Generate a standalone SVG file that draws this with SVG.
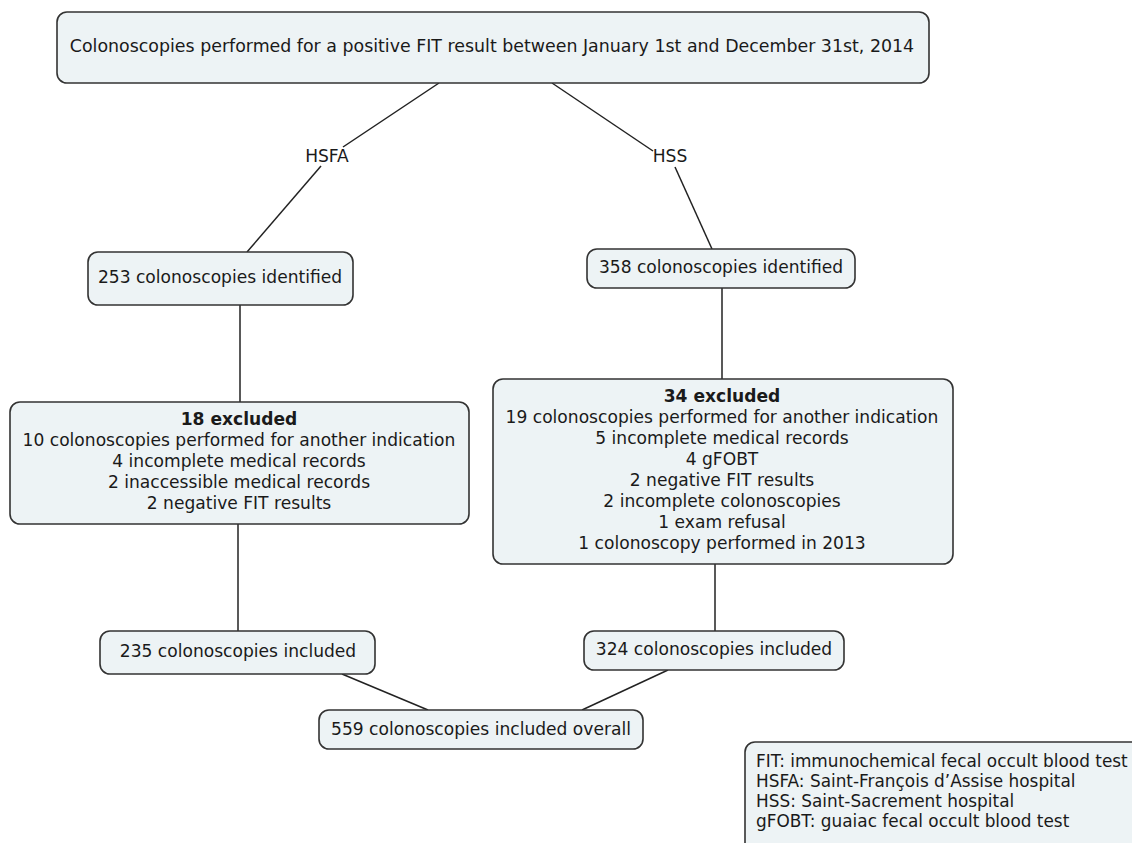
<svg xmlns="http://www.w3.org/2000/svg" width="1132" height="843" viewBox="0 0 1132 843">
<style>
.box{fill:#edf3f5;stroke:#333;stroke-width:1.6}
.t{font-family:"DejaVu Sans",Verdana,sans-serif;font-size:17.1px;fill:#1a1a1a}
.c{text-anchor:middle}
.b{font-weight:bold}
.ln{stroke:#222;stroke-width:1.5;fill:none}
.lg{font-family:"DejaVu Sans",Verdana,sans-serif;font-size:16.9px;fill:#1a1a1a}
</style>
<rect width="1132" height="843" fill="#fff"/>
<g id="connectors">
<line class="ln" x1="439" y1="83" x2="343" y2="147"/>
<line class="ln" x1="321" y1="166" x2="247" y2="252"/>
<line class="ln" x1="552" y1="83" x2="653" y2="151"/>
<line class="ln" x1="675" y1="167" x2="712" y2="249"/>
<line class="ln" x1="240" y1="305" x2="240" y2="402"/>
<line class="ln" x1="722" y1="288" x2="722" y2="379"/>
<line class="ln" x1="238" y1="524" x2="238" y2="631"/>
<line class="ln" x1="715" y1="564" x2="715" y2="631"/>
<line class="ln" x1="342" y1="674" x2="428" y2="710"/>
<line class="ln" x1="668" y1="670" x2="582" y2="710"/>
<text class="t c" x="327" y="162">HSFA</text>
<text class="t c" x="670" y="162">HSS</text>
</g>
<g id="top">
<rect class="box" x="57" y="12" width="872" height="71" rx="10"/>
<text class="t c" x="492" y="52" style="font-size:17.4px">Colonoscopies performed for a positive FIT result between January 1st and December 31st, 2014</text>
</g>
<g id="hsfa-identified">
<rect class="box" x="88" y="252" width="265" height="53" rx="10"/>
<text class="t c" x="220" y="283">253 colonoscopies identified</text>
</g>
<g id="hss-identified">
<rect class="box" x="587" y="249" width="268" height="39" rx="10"/>
<text class="t c" x="721" y="273">358 colonoscopies identified</text>
</g>
<g id="hsfa-excluded">
<rect class="box" x="10" y="402" width="459" height="122" rx="10"/>
<text class="t c b" x="239" y="425">18 excluded</text>
<text class="t c" x="239" y="446">10 colonoscopies performed for another indication</text>
<text class="t c" x="239" y="467">4 incomplete medical records</text>
<text class="t c" x="239" y="488">2 inaccessible medical records</text>
<text class="t c" x="239" y="509">2 negative FIT results</text>
</g>
<g id="hss-excluded">
<rect class="box" x="493" y="379" width="460" height="185" rx="10"/>
<text class="t c b" x="722" y="402">34 excluded</text>
<text class="t c" x="722" y="423">19 colonoscopies performed for another indication</text>
<text class="t c" x="722" y="444">5 incomplete medical records</text>
<text class="t c" x="722" y="465">4 gFOBT</text>
<text class="t c" x="722" y="486">2 negative FIT results</text>
<text class="t c" x="722" y="507">2 incomplete colonoscopies</text>
<text class="t c" x="722" y="528">1 exam refusal</text>
<text class="t c" x="722" y="549">1 colonoscopy performed in 2013</text>
</g>
<g id="hsfa-included">
<rect class="box" x="100" y="631" width="275" height="43" rx="10"/>
<text class="t c" x="238" y="657">235 colonoscopies included</text>
</g>
<g id="hss-included">
<rect class="box" x="584" y="631" width="260" height="39" rx="10"/>
<text class="t c" x="714" y="655">324 colonoscopies included</text>
</g>
<g id="overall">
<rect class="box" x="319" y="710" width="324" height="39" rx="10"/>
<text class="t c" x="481" y="735">559 colonoscopies included overall</text>
</g>
<g id="legend">
<rect class="box" x="745" y="742" width="420" height="120" rx="10"/>
<text class="lg" x="756" y="767">FIT: immunochemical fecal occult blood test</text>
<text class="lg" x="756" y="787">HSFA: Saint-François d’Assise hospital</text>
<text class="lg" x="756" y="807">HSS: Saint-Sacrement hospital</text>
<text class="lg" x="756" y="827">gFOBT: guaiac fecal occult blood test</text>
</g>
</svg>
